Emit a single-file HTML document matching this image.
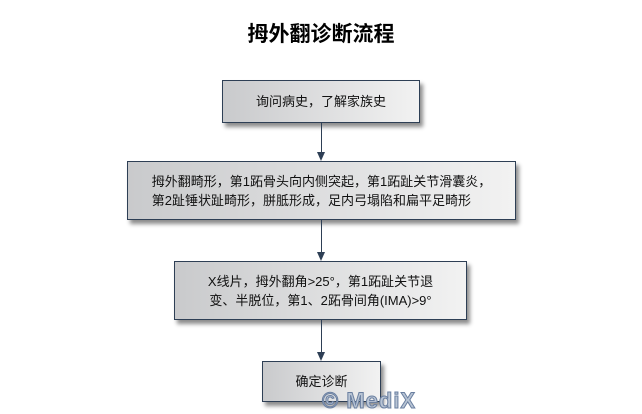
<!DOCTYPE html>
<html><head><meta charset="utf-8"><style>
body{margin:0;width:642px;height:410px;background:#fff;position:relative;overflow:hidden;font-family:"Liberation Sans","Noto Sans CJK SC",sans-serif}
.t{position:absolute;left:0;width:642px;top:18px;text-align:center;font-size:21px;font-weight:bold;color:#000}
.b{position:absolute;box-sizing:border-box;border:1px solid #2e3f55;background:linear-gradient(90deg,#c9cacc,#f2f2f2);box-shadow:3px 4px 4px rgba(0,0,0,.45);display:flex;align-items:center;justify-content:center;text-align:center;font-size:13px;line-height:19px;color:#111}
.l{position:absolute;left:321px;width:1px;background:#2e3f55}
.a{position:absolute;left:317px;width:0;height:0;border-left:4.5px solid transparent;border-right:4.5px solid transparent;border-top:9px solid #2e3f55}
.w{position:absolute;left:322px;top:388px;font-size:22px;font-weight:bold;color:#b8c4d4;letter-spacing:1px;-webkit-text-stroke:1px #6a7fa0}
</style></head><body>
<div class="t">拇外翻诊断流程</div>
<div class="b" style="left:222px;top:80px;width:198px;height:43px">询问病史，了解家族史</div>
<div class="l" style="top:123px;height:30px"></div><div class="a" style="top:152px"></div>
<div class="b" style="left:127px;top:161px;width:389px;height:59px"><div style="text-align:left">拇外翻畸形，第1跖骨头向内侧突起，第1跖趾关节滑囊炎，<br>第2趾锤状趾畸形，胼胝形成，足内弓塌陷和扁平足畸形</div></div>
<div class="l" style="top:220px;height:33px"></div><div class="a" style="top:252px"></div>
<div class="b" style="left:174px;top:261px;width:293px;height:59px">X线片，拇外翻角&gt;25°，第1跖趾关节退<br>变、半脱位，第1、2跖骨间角(IMA)&gt;9°</div>
<div class="l" style="top:320px;height:33px"></div><div class="a" style="top:352px"></div>
<div class="b" style="left:262px;top:361px;width:119px;height:41px">确定诊断</div>
<div class="w">© MediX</div>
</body></html>
